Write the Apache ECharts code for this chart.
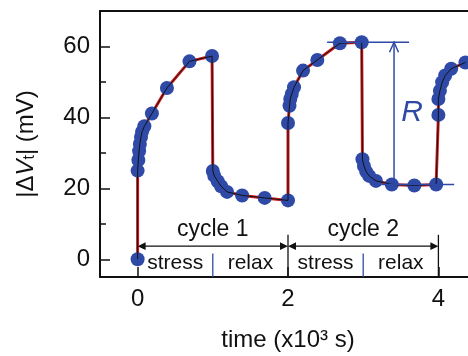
<!DOCTYPE html>
<html>
<head>
<meta charset="utf-8">
<script src="https://cdn.jsdelivr.net/npm/echarts@6/dist/echarts.min.js"></script>
<style>
html, body { margin: 0; padding: 0; background: #fff; }
#chart { width: 468px; height: 356px; }
</style>
</head>
<body>
<div id="chart"></div>
<script>
// time in 10^3 s, |dVt| in mV, measured points in order (stress / relax / stress ...)
var timeK = [
  0, 0.0, 0.01, 0.02, 0.03, 0.045, 0.06, 0.09, 0.19, 0.39, 0.69, 0.99,
  1.0, 1.02, 1.065, 1.11, 1.19, 1.39, 1.69, 2.0,
  2.0, 2.02, 2.03, 2.05, 2.08, 2.2, 2.39, 2.69, 2.98,
  2.99, 3.01, 3.04, 3.08, 3.17, 3.38, 3.68, 3.97,
  4.0, 4.0, 4.02, 4.05, 4.09, 4.17, 4.36
];
var dV = [
  0, 25, 28, 30.5, 32.5, 34.5, 36, 37.5, 41.1, 48.3, 55.8, 57.3,
  24.9, 23.5, 22, 20.6, 19, 18, 17.3, 16.6,
  38.4, 43.3, 45.2, 46.6, 48.5, 53.2, 56.2, 60.9, 61.2,
  28.2, 26.3, 24.7, 23.5, 22.1, 21.1, 20.8, 21.1,
  40.7, 45.2, 47.5, 49.9, 51.8, 53.7, 55.5
];
var xTicks = [0, 2, 4];
var yTicks = [0, 20, 40, 60];
var yMinor = [10, 30, 50];

// annotation positions (data units)
var cycleEdges = [0, 2, 4];
var cycleNames = ['cycle 1', 'cycle 2'];
var phaseNames = ['stress', 'relax'];
var rTop = 61.2, rBottom = 21.1, rX = 3.41;

var pts = timeK.map(function (t, i) { return [t, dV[i]]; });

var FONT = '"Liberation Sans", Arial, sans-serif';
var BLUE = '#2e49a6';

function arrowHead(tip, dx, dy, len, half) {
  var bx = tip[0] - dx * len, by = tip[1] - dy * len;
  return [tip, [bx - dy * half, by + dx * half], [bx + dy * half, by - dx * half]];
}

function renderNotes(params, api) {
  var kids = [];
  var yArrow = 3.7;
  for (var c = 0; c < cycleEdges.length - 1; c++) {
    var a = api.coord([cycleEdges[c], yArrow]);
    var b = api.coord([cycleEdges[c + 1], yArrow]);
    kids.push({ type: 'line', shape: { x1: a[0] + 6, y1: a[1], x2: b[0] - 6, y2: b[1] },
      style: { stroke: '#111', lineWidth: 1.2 } });
    kids.push({ type: 'polygon', shape: { points: arrowHead(a, -1, 0, 8, 3.8) }, style: { fill: '#111' } });
    kids.push({ type: 'polygon', shape: { points: arrowHead(b, 1, 0, 8, 3.8) }, style: { fill: '#111' } });
    var mid = (cycleEdges[c] + cycleEdges[c + 1]) / 2;
    var ct = api.coord([mid, 8.3]);
    kids.push({ type: 'text', x: ct[0], y: ct[1],
      style: { text: cycleNames[c], font: '23px ' + FONT, fill: '#111', align: 'center', verticalAlign: 'middle' } });
    var st = api.coord([cycleEdges[c] + 0.5, -1.1]);
    var rt = api.coord([cycleEdges[c] + 1.5, -1.1]);
    kids.push({ type: 'text', x: st[0], y: st[1],
      style: { text: phaseNames[0], font: '21px ' + FONT, fill: '#111', align: 'center', verticalAlign: 'middle' } });
    kids.push({ type: 'text', x: rt[0], y: rt[1],
      style: { text: phaseNames[1], font: '21px ' + FONT, fill: '#111', align: 'center', verticalAlign: 'middle' } });
    var d1 = api.coord([mid, 1.6]);
    var d2 = api.coord([mid, -5]);
    kids.push({ type: 'line', shape: { x1: d1[0], y1: d1[1], x2: d2[0], y2: d2[1] },
      style: { stroke: BLUE, lineWidth: 1.3 } });
    var e1 = api.coord([cycleEdges[c + 1], 6.9]);
    var e2 = api.coord([cycleEdges[c + 1], -5]);
    kids.push({ type: 'line', shape: { x1: e1[0], y1: e1[1], x2: e2[0], y2: e2[1] },
      style: { stroke: '#111', lineWidth: 1.3 } });
  }
  // R bracket
  var t1 = api.coord([2.52, rTop]), t2 = api.coord([3.61, rTop]);
  var b1 = api.coord([3.25, rBottom]), b2 = api.coord([4.21, rBottom]);
  var v1 = api.coord([rX, rTop]), v2 = api.coord([rX, rBottom]);
  var ls = { stroke: BLUE, lineWidth: 1.5, fill: null };
  kids.push({ type: 'line', shape: { x1: t1[0], y1: t1[1], x2: t2[0], y2: t2[1] }, style: ls });
  kids.push({ type: 'line', shape: { x1: b1[0], y1: b1[1], x2: b2[0], y2: b2[1] }, style: ls });
  kids.push({ type: 'line', shape: { x1: v1[0], y1: v1[1], x2: v2[0], y2: v2[1] }, style: ls });
  kids.push({ type: 'polyline', shape: { points: [[v1[0] - 4.5, v1[1] + 10], v1, [v1[0] + 4.5, v1[1] + 10]] }, style: ls });
  var rp = api.coord([3.65, 41.3]);
  kids.push({ type: 'text', x: rp[0], y: rp[1],
    style: { text: 'R', font: 'italic 30px ' + FONT, fill: BLUE, align: 'center', verticalAlign: 'middle' } });
  return { type: 'group', children: kids };
}

var chart = echarts.init(document.getElementById('chart'), null, { renderer: 'canvas' });
chart.setOption({
  backgroundColor: '#fff',
  animation: false,
  grid: { left: 100, right: -8, top: 11, bottom: 79, containLabel: false, outerBoundsMode: 'none' },
  xAxis: [{
    type: 'value', min: -0.5, max: 4.5, position: 'bottom',
    axisLine: { onZero: false, lineStyle: { color: '#111', width: 2 } },
    axisTick: { inside: true, length: 10, customValues: xTicks, lineStyle: { color: '#111', width: 1.5 } },
    axisLabel: { customValues: xTicks, fontSize: 24, fontFamily: FONT, color: '#111', margin: 10 },
    splitLine: { show: false },
    name: 'time (x10³ s)', nameLocation: 'middle', nameGap: 51,
    nameTextStyle: { fontSize: 24, fontFamily: FONT, color: '#111' }
  }, {
    type: 'value', min: -0.5, max: 4.5, position: 'top',
    axisLine: { show: true, onZero: false, lineStyle: { color: '#111', width: 2 } },
    axisTick: { show: false }, axisLabel: { show: false }, splitLine: { show: false }
  }],
  yAxis: [{
    type: 'value', min: -5, max: 70, position: 'left',
    axisLine: { show: true, onZero: false, lineStyle: { color: '#111', width: 2 } },
    axisTick: { show: true, inside: true, length: 10, customValues: yTicks, lineStyle: { color: '#111', width: 1.5 } },
    axisLabel: { customValues: yTicks, fontSize: 24, fontFamily: FONT, color: '#111', margin: 10 },
    splitLine: { show: false },
    name: '|Δ{i|V}{s|t}| (mV)', nameLocation: 'middle', nameGap: 62, nameRotate: 90,
    nameTextStyle: {
      fontSize: 24, fontFamily: FONT, color: '#111',
      rich: {
        i: { fontSize: 24, fontStyle: 'italic', fontFamily: FONT, color: '#111' },
        s: { fontSize: 16, fontFamily: FONT, color: '#111', verticalAlign: 'bottom', lineHeight: 24, padding: [12, 0, 0, 0] }
      }
    }
  }, {
    type: 'value', min: -5, max: 70, position: 'left',
    axisLine: { show: false, onZero: false },
    axisTick: { show: true, inside: true, length: 6, customValues: yMinor, lineStyle: { color: '#111', width: 1.5 } },
    axisLabel: { show: false }, splitLine: { show: false }
  }],
  series: [{
    type: 'line', data: pts, symbol: 'none', z: 2,
    lineStyle: { color: '#d01c1c', width: 3 }
  }, {
    type: 'scatter', data: pts, symbolSize: 14, z: 3,
    itemStyle: { color: BLUE, opacity: 1 }
  }, {
    type: 'line', data: pts, symbol: 'none', z: 4,
    lineStyle: { color: '#111', width: 1 }
  }, {
    type: 'custom', data: [[0, 0]], renderItem: renderNotes, z: 5, silent: true
  }]
});
</script>
</body>
</html>
